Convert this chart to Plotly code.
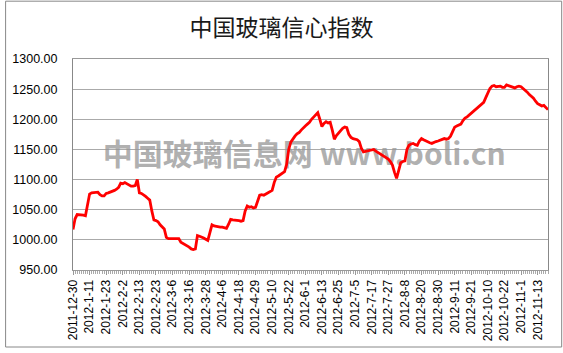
import plotly.graph_objects as go

# Index values, one per trading day
values = [
    1017, 1035, 1042, 1042, 1041, 1041, 1040, 1058, 1076, 1078,
    1078, 1078, 1079, 1075, 1073, 1073, 1077, 1078, 1079, 1080,
    1082, 1084, 1087, 1094, 1093, 1095, 1093, 1090, 1089, 1089,
    1090, 1100, 1078, 1077, 1075, 1072, 1069, 1066, 1048, 1033,
    1032, 1030, 1025, 1021, 1018, 1004, 1002, 1002, 1002, 1001,
    1001, 1002, 996, 994, 993, 991, 988, 985, 984, 985,
    1007, 1006, 1005, 1003, 1001, 999, 1012, 1025, 1023, 1022,
    1021, 1021, 1021, 1020, 1019, 1026, 1034, 1033, 1033, 1032,
    1032, 1031, 1032, 1048, 1056, 1054, 1055, 1053, 1054, 1064,
    1074, 1075, 1074, 1076, 1078, 1080, 1082, 1095, 1104, 1106,
    1108, 1110, 1113, 1125, 1150, 1162, 1168, 1172, 1176, 1178,
    1182, 1186, 1189, 1192, 1195, 1200, 1204, 1208, 1211, 1200,
    1188, 1193, 1196, 1194, 1195, 1182, 1167, 1173, 1177, 1181,
    1185, 1187, 1186, 1175, 1170, 1168, 1167, 1166, 1163, 1152,
    1146, 1147, 1148, 1149, 1149, 1150, 1147, 1145, 1143, 1141,
    1139, 1136, 1134, 1130, 1124, 1112, 1102, 1115, 1128, 1130,
    1131, 1150, 1157, 1159, 1160, 1158, 1157, 1164, 1168, 1166,
    1164, 1163, 1161, 1160, 1162, 1163, 1164, 1165, 1166, 1168,
    1167, 1168, 1172, 1180, 1187, 1189, 1190, 1192, 1198, 1202,
    1204, 1207, 1210, 1213, 1215, 1218, 1221, 1224, 1228, 1236,
    1244, 1251, 1255, 1256, 1254, 1255, 1255, 1253, 1253, 1257,
    1256, 1254, 1253, 1252, 1254, 1255, 1254, 1251, 1249, 1245,
    1241, 1238, 1235, 1230, 1226, 1224, 1222, 1223, 1219, 1216,
]

tick_labels = [
    "2011-12-30", "2012-1-11", "2012-1-23", "2012-2-2", "2012-2-13",
    "2012-2-23", "2012-3-6", "2012-3-16", "2012-3-28", "2012-4-6",
    "2012-4-18", "2012-4-29", "2012-5-10", "2012-5-22", "2012-6-1",
    "2012-6-13", "2012-6-25", "2012-7-5", "2012-7-17", "2012-7-27",
    "2012-8-8", "2012-8-20", "2012-8-30", "2012-9-11", "2012-9-21",
    "2012-10-10", "2012-10-22", "2012-11-1", "2012-11-13",
]
label_step = 8

title_text = "中国玻璃信心指数"
watermark_text = "中国玻璃信息网 www.boli.cn"

x_idx = list(range(len(values)))
tick_pos = [i * label_step for i in range(len(tick_labels))]

fig = go.Figure()

# watermark (drawn beneath the line)
fig.add_trace(go.Scatter(
    x=[111.5], y=[1136], mode="text", text=[watermark_text],
    textposition="middle center",
    textfont=dict(family="Noto Sans CJK SC, Liberation Sans, sans-serif",
                  size=30, color="rgba(150,150,150,0.75)", weight="bold"),
    hoverinfo="skip", showlegend=False,
))

fig.add_trace(go.Scatter(
    x=x_idx, y=values, mode="lines",
    line=dict(color="#ff0000", width=2.8),
    showlegend=False,
))

fig.update_layout(
    width=563, height=353,
    margin=dict(l=68, r=15, t=59, b=81),
    paper_bgcolor="white", plot_bgcolor="white",
    title=dict(text=title_text, x=0.5, xref="container", y=0.92, yref="container",
               xanchor="center", yanchor="middle",
               font=dict(family="Noto Sans CJK SC, sans-serif", size=23, color="#1a1a1a")),
    font=dict(family="Liberation Sans, Arial, sans-serif", color="#000000"),
    shapes=[dict(type="rect", xref="paper", yref="paper",
                 x0=-0.1419, x1=1.0288, y0=-0.365, y1=1.274,
                 line=dict(color="#888888", width=1), layer="below")],
)

fig.update_xaxes(
    range=[0, len(values) - 1],
    tickmode="array", tickvals=tick_pos, ticktext=tick_labels,
    tickangle=-90, tickfont=dict(size=12, color="#000000"),
    ticks="outside", ticklen=4, tickcolor="#999999",
    minor=dict(ticks="outside", ticklen=3, dtick=1, tick0=0, tickcolor="#aaaaaa"),
    showline=True, linecolor="#999999", linewidth=1, mirror=True,
    showgrid=False, zeroline=False,
)
fig.update_yaxes(
    range=[950, 1300], dtick=50, tick0=950, tickformat=".2f",
    tickfont=dict(size=12.5, color="#000000"),
    ticklabelstandoff=12,
    showgrid=True, gridcolor="#aaaaaa", gridwidth=1,
    showline=True, linecolor="#888888", linewidth=1, mirror=True,
    zeroline=False,
)

fig.write_html("out.html")
